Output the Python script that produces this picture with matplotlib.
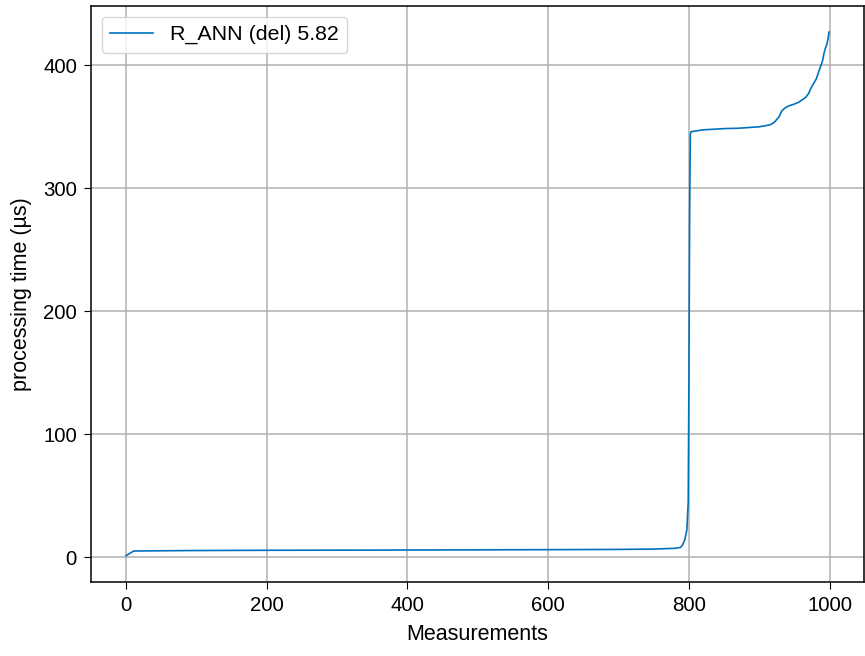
import numpy as np
import matplotlib
matplotlib.use("Agg")
import matplotlib.pyplot as plt

# --------------------------------------------------
# Data (sorted processing times)
# --------------------------------------------------
label = "R_ANN (del) 5.82"
measurement = [0, 11, 50, 100, 200, 400, 600, 700, 750, 780, 788, 791,
               794, 797, 799, 800, 801, 802, 803, 820, 850, 870, 900,
               915, 921, 928, 932, 937, 942, 950, 956, 961, 966, 970,
               973, 977, 981, 984, 987, 990, 992, 994, 996, 998, 999]
time_us = [1.2, 5.0, 5.2, 5.4, 5.6, 5.8, 6.1, 6.3, 6.6, 7.2, 7.9, 10.0,
           14.0, 22.0, 45.0, 150.0, 280.0, 344.0, 346.0, 347.5, 348.5,
           348.8, 350.0, 351.5, 353.5, 358.0, 363.0, 365.5, 367.0, 368.5,
           370.0, 372.0, 374.0, 377.0, 381.0, 385.0, 389.0, 394.0, 399.0,
           404.0, 410.0, 414.0, 417.0, 423.0, 427.0]

# --------------------------------------------------
# Style
# --------------------------------------------------
plt.rcParams["font.family"] = ["Liberation Sans", "DejaVu Sans"]
plt.rcParams["font.size"] = 14.7
plt.rcParams["xtick.major.size"] = 5
plt.rcParams["ytick.major.size"] = 5
plt.rcParams["xtick.major.pad"] = 5
plt.rcParams["ytick.major.pad"] = 5
plt.rcParams["axes.linewidth"] = 1.1

# --------------------------------------------------
# Plot
# --------------------------------------------------
fig = plt.figure(figsize=(8.65, 6.56), dpi=100)
ax = fig.add_axes([0.105, 0.113, 0.894, 0.878])

ax.plot(measurement, time_us, color="#0072bd", linewidth=1.2, label=label)

ax.set_xlabel("Measurements", fontsize=15.5, labelpad=7)
ax.set_ylabel("processing time (µs)", fontsize=15.5, labelpad=8)
ax.set_xticks([0, 200, 400, 600, 800, 1000])
ax.set_yticks([0, 100, 200, 300, 400])
ax.grid(True, color="#b0b0b0", linewidth=1.1)
ax.set_axisbelow(True)
ax.legend(loc="upper left", fontsize=15.4)

fig.savefig("out.png", dpi=100)
